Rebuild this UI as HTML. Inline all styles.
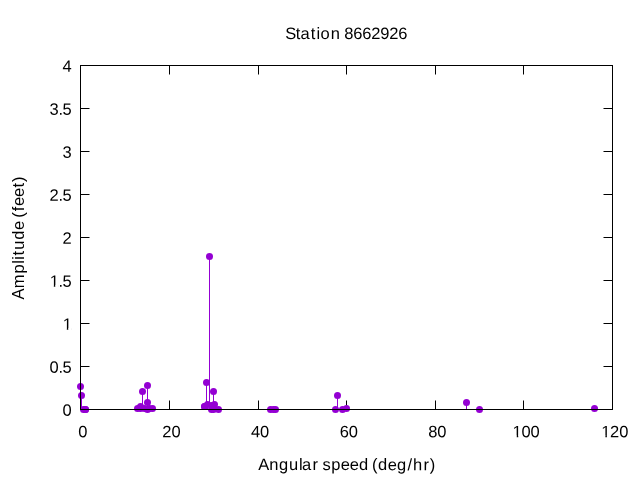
<!DOCTYPE html>
<html lang="en">
<head>
<meta charset="utf-8">
<title>Station 8662926</title>
<style>
html,body{margin:0;padding:0;background:#fff;}
body{width:640px;height:480px;overflow:hidden;position:relative;}
svg{display:block;position:absolute;left:0;top:0;}
text{font-family:"Liberation Sans",sans-serif;font-size:16.5px;fill:#000;}
.ax{stroke:#000;stroke-width:1;fill:none;}
.imp{stroke:#9400d3;stroke-width:1;fill:none;}
.pt{fill:#9400d3;}
</style>
</head>
<body>
<svg width="640" height="480" viewBox="0 0 640 480">
<rect x="0" y="0" width="640" height="480" fill="#fff"/>
<g class="ax">
<line x1="169.5" y1="409.5" x2="169.5" y2="400.5"/>
<line x1="169.5" y1="65.5" x2="169.5" y2="74.5"/>
<line x1="258.5" y1="409.5" x2="258.5" y2="400.5"/>
<line x1="258.5" y1="65.5" x2="258.5" y2="74.5"/>
<line x1="346.5" y1="409.5" x2="346.5" y2="400.5"/>
<line x1="346.5" y1="65.5" x2="346.5" y2="74.5"/>
<line x1="435.5" y1="409.5" x2="435.5" y2="400.5"/>
<line x1="435.5" y1="65.5" x2="435.5" y2="74.5"/>
<line x1="523.5" y1="409.5" x2="523.5" y2="400.5"/>
<line x1="523.5" y1="65.5" x2="523.5" y2="74.5"/>
<line x1="80.5" y1="366.5" x2="89.5" y2="366.5"/>
<line x1="612.5" y1="366.5" x2="603.5" y2="366.5"/>
<line x1="80.5" y1="323.5" x2="89.5" y2="323.5"/>
<line x1="612.5" y1="323.5" x2="603.5" y2="323.5"/>
<line x1="80.5" y1="280.5" x2="89.5" y2="280.5"/>
<line x1="612.5" y1="280.5" x2="603.5" y2="280.5"/>
<line x1="80.5" y1="237.5" x2="89.5" y2="237.5"/>
<line x1="612.5" y1="237.5" x2="603.5" y2="237.5"/>
<line x1="80.5" y1="194.5" x2="89.5" y2="194.5"/>
<line x1="612.5" y1="194.5" x2="603.5" y2="194.5"/>
<line x1="80.5" y1="151.5" x2="89.5" y2="151.5"/>
<line x1="612.5" y1="151.5" x2="603.5" y2="151.5"/>
<line x1="80.5" y1="108.5" x2="89.5" y2="108.5"/>
<line x1="612.5" y1="108.5" x2="603.5" y2="108.5"/>
</g>
<g class="ylab">
<text x="62.54" y="415.8" transform="rotate(0.05 67.05 415.8)">0</text>
<text x="49.54 58.4 62.6" y="372.8" transform="rotate(0.05 60.55 372.8)">0.5</text>
<text x="62.66" y="329.8" transform="rotate(0.05 67.05 329.8)">1</text>
<text x="49.66 58.4 62.6" y="286.8" transform="rotate(0.05 60.55 286.8)">1.5</text>
<text x="62.51" y="243.8" transform="rotate(0.05 67.05 243.8)">2</text>
<text x="49.51 58.4 62.6" y="200.8" transform="rotate(0.05 60.55 200.8)">2.5</text>
<text x="62.49" y="157.8" transform="rotate(0.05 67.05 157.8)">3</text>
<text x="49.49 58.4 62.6" y="114.8" transform="rotate(0.05 60.55 114.8)">3.5</text>
<text x="62.6" y="71.8" transform="rotate(0.05 67.05 71.8)">4</text>
</g>
<g class="xlab">
<text x="78.24" y="437.35" transform="rotate(0.05 82.75 437.35)">0</text>
<text x="162.36 171.39" y="437.35" transform="rotate(0.05 171.4 437.35)">20</text>
<text x="251.1 260.04" y="437.35" transform="rotate(0.05 260.05 437.35)">40</text>
<text x="339.7 348.69" y="437.35" transform="rotate(0.05 348.7 437.35)">60</text>
<text x="428.33 437.34" y="437.35" transform="rotate(0.05 437.35 437.35)">80</text>
<text x="512.61 521.49 530.49" y="437.35" transform="rotate(0.05 526 437.35)">100</text>
<text x="601.26 610.11 619.14" y="437.35" transform="rotate(0.05 614.65 437.35)">120</text>
</g>
<g class="mask" fill="#fff">
<rect x="62.36" y="328" width="4.45" height="3"/>
<rect x="68.27" y="328" width="3.19" height="3"/>
<rect x="49.36" y="285" width="4.45" height="3"/>
<rect x="55.27" y="285" width="3.19" height="3"/>
<rect x="512.31" y="435.55" width="4.45" height="3"/>
<rect x="518.22" y="435.55" width="3.19" height="3"/>
<rect x="600.96" y="435.55" width="4.45" height="3"/>
<rect x="606.87" y="435.55" width="3.19" height="3"/>
</g>
<g class="imp">
<line x1="80.5" y1="409.5" x2="80.5" y2="386.5"/>
<line x1="81.5" y1="409.5" x2="81.5" y2="395.5"/>
<line x1="137.5" y1="409.5" x2="137.5" y2="408.5"/>
<line x1="140.5" y1="409.5" x2="140.5" y2="406.5"/>
<line x1="140.5" y1="409.5" x2="140.5" y2="408.5"/>
<line x1="142.5" y1="409.5" x2="142.5" y2="391.5"/>
<line x1="144.5" y1="409.5" x2="144.5" y2="408.5"/>
<line x1="147.5" y1="409.5" x2="147.5" y2="402.5"/>
<line x1="147.5" y1="409.5" x2="147.5" y2="385.5"/>
<line x1="149.5" y1="409.5" x2="149.5" y2="408.5"/>
<line x1="152.5" y1="409.5" x2="152.5" y2="408.5"/>
<line x1="204.5" y1="409.5" x2="204.5" y2="406.5"/>
<line x1="206.5" y1="409.5" x2="206.5" y2="382.5"/>
<line x1="207.5" y1="409.5" x2="207.5" y2="404.5"/>
<line x1="209.5" y1="409.5" x2="209.5" y2="256.5"/>
<line x1="211.5" y1="409.5" x2="211.5" y2="405.5"/>
<line x1="213.5" y1="409.5" x2="213.5" y2="408.5"/>
<line x1="213.5" y1="409.5" x2="213.5" y2="391.5"/>
<line x1="214.5" y1="409.5" x2="214.5" y2="404.5"/>
<line x1="337.5" y1="409.5" x2="337.5" y2="395.5"/>
<line x1="346.5" y1="409.5" x2="346.5" y2="408.5"/>
<line x1="466.5" y1="409.5" x2="466.5" y2="402.5"/>
<line x1="594.5" y1="409.5" x2="594.5" y2="408.5"/>
</g>
<g class="pt">
<circle cx="80.5" cy="386.5" r="3.5"/>
<circle cx="81.5" cy="395.5" r="3.5"/>
<circle cx="83.5" cy="409.5" r="3.5"/>
<circle cx="85.5" cy="409.5" r="3.5"/>
<circle cx="85.5" cy="409.5" r="3.5"/>
<circle cx="137.5" cy="408.5" r="3.5"/>
<circle cx="140.5" cy="406.5" r="3.5"/>
<circle cx="140.5" cy="408.5" r="3.5"/>
<circle cx="142.5" cy="391.5" r="3.5"/>
<circle cx="144.5" cy="408.5" r="3.5"/>
<circle cx="147.5" cy="402.5" r="3.5"/>
<circle cx="147.5" cy="409.5" r="3.5"/>
<circle cx="147.5" cy="385.5" r="3.5"/>
<circle cx="149.5" cy="408.5" r="3.5"/>
<circle cx="152.5" cy="408.5" r="3.5"/>
<circle cx="204.5" cy="406.5" r="3.5"/>
<circle cx="204.5" cy="406.5" r="3.5"/>
<circle cx="206.5" cy="382.5" r="3.5"/>
<circle cx="207.5" cy="404.5" r="3.5"/>
<circle cx="209.5" cy="256.5" r="3.5"/>
<circle cx="211.5" cy="409.5" r="3.5"/>
<circle cx="211.5" cy="405.5" r="3.5"/>
<circle cx="213.5" cy="408.5" r="3.5"/>
<circle cx="213.5" cy="391.5" r="3.5"/>
<circle cx="213.5" cy="409.5" r="3.5"/>
<circle cx="214.5" cy="404.5" r="3.5"/>
<circle cx="218.5" cy="409.5" r="3.5"/>
<circle cx="270.5" cy="409.5" r="3.5"/>
<circle cx="273.5" cy="409.5" r="3.5"/>
<circle cx="275.5" cy="409.5" r="3.5"/>
<circle cx="335.5" cy="409.5" r="3.5"/>
<circle cx="337.5" cy="395.5" r="3.5"/>
<circle cx="342.5" cy="409.5" r="3.5"/>
<circle cx="346.5" cy="408.5" r="3.5"/>
<circle cx="466.5" cy="402.5" r="3.5"/>
<circle cx="479.5" cy="409.5" r="3.5"/>
<circle cx="594.5" cy="408.5" r="3.5"/>
</g>
<rect class="ax" x="80.5" y="65.5" width="532.0" height="344.0"/>
<text x="285.23 295.78 300.57 310.78 316.54 320.56 330.68 340.09 344.28 353.3 362.3 371.26 380.28 389.26 398.3" y="39" class="title" transform="rotate(0.05 346.8 39)">Station 8662926</text>
<text x="258.35 269.13 279.03 289.07 298.98 302.02 312.46 318.54 322.57 331.14 340.72 349.72 359.03 368.54 372.02 378.03 387.72 397.03 407.43 413.1 423.46 429.79" y="470.1" class="xtitle" transform="rotate(0.05 346.75 470.1)">Angular speed (deg/hr)</text>
<text x="-61.4 -50.36 -35.61 -25.77 -21.76 -17.52 -11.68 -1.72 7.97 16.79 20.27 26.79 31.97 40.97 50.48 56.04" y="0" class="ytitle" transform="translate(24.0,238.0) rotate(-90)">Amplitude (feet)</text>
</svg>
</body>
</html>
